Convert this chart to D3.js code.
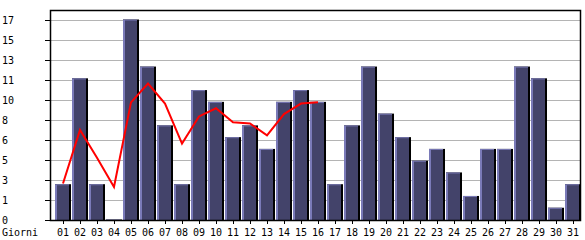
<!DOCTYPE html>
<html>
<head>
<meta charset="utf-8">
<script src="https://cdn.jsdelivr.net/npm/d3@7"></script>
<style>
  body { margin: 0; background: #fff; }
  svg { display: block; }
  text { font-family: 'DejaVu Sans Mono', monospace; font-size: 10px; fill: #000; }
</style>
</head>
<body>
<svg id="area" width="585" height="240"></svg>
<script>
const days = ['01','02','03','04','05','06','07','08','09','10','11','12','13','14','15','16',
  '17','18','19','20','21','22','23','24','25','26','27','28','29','30','31'];
const visits = [3,12,3,0,17,13,8,3,11,10,7,8,6,10,11,10,3,8,13,9,7,5,6,4,2,6,6,13,12,1,3];
const trendDays = days.slice(0, 16);
const trend = [3.1,7.65,5.3,2.8,10.0,11.6,9.9,6.5,8.8,9.5,8.3,8.2,7.2,9.0,9.9,10.0];
const yTicks = [0,1.7,3.4,5.1,6.8,8.5,10.2,11.9,13.6,15.3,17];
const yLabels = ['0','1','3','5','6','8','10','11','13','15','17'];

function drawChart() {
  const svg = d3.select('#area');

  const left = 50;
  const right = 580;
  const top = 10;
  const bottom = 220;

  const x = d3.scaleBand(days, [54.5, 581.5]);
  const y = d3.scaleLinear([0, 17.85], [bottom, top]);
  const cx = (d) => x(d) + x.bandwidth() / 2;

  // grid
  svg.append('g')
    .attr('stroke', '#b4b4b4')
    .selectAll('line')
    .data(yTicks.slice(1))
    .join('line')
    .attr('x1', left)
    .attr('x2', right)
    .attr('y1', (d) => Math.round(y(d)) + 0.5)
    .attr('y2', (d) => Math.round(y(d)) + 0.5);

  // y ticks + labels
  svg.append('g')
    .attr('stroke', '#000')
    .selectAll('line')
    .data(yTicks)
    .join('line')
    .attr('x1', left - 5)
    .attr('x2', left)
    .attr('y1', (d) => Math.round(y(d)) + 0.5)
    .attr('y2', (d) => Math.round(y(d)) + 0.5);

  svg.append('g').selectAll('text')
    .data(yTicks)
    .join('text')
    .attr('x', 2)
    .attr('y', (d) => y(d))
    .attr('dy', '0.35em')
    .text((d, i) => yLabels[i]);

  // bars
  const bars = svg.append('g').selectAll('g')
    .data(visits)
    .join('g');

  bars.append('rect')
    .attr('x', (d, i) => cx(days[i]) - 8)
    .attr('y', (d) => y(d) - 0.5)
    .attr('width', 16)
    .attr('height', (d) => bottom - y(d) + 0.5)
    .attr('fill', '#000');
  bars.append('rect')
    .attr('x', (d, i) => cx(days[i]) - 8)
    .attr('y', (d) => y(d) - 0.5)
    .attr('width', 14)
    .attr('height', (d) => bottom - y(d) + 0.5)
    .attr('fill', '#7a7ab8');
  bars.append('rect')
    .attr('x', (d, i) => cx(days[i]) - 6)
    .attr('y', (d) => y(d) + 0.5)
    .attr('width', 12)
    .attr('height', (d) => Math.max(0, bottom - y(d) - 0.5))
    .attr('fill', '#43436a');

  // frame
  svg.append('rect')
    .attr('x', left + 0.5)
    .attr('y', top + 0.5)
    .attr('width', right - left)
    .attr('height', bottom - top)
    .attr('fill', 'none')
    .attr('stroke', '#000')
    .attr('stroke-width', 1.5);

  // x ticks + labels
  svg.append('g')
    .attr('stroke', '#000')
    .selectAll('line')
    .data(days)
    .join('line')
    .attr('x1', (d) => Math.round(cx(d)) + 0.5)
    .attr('x2', (d) => Math.round(cx(d)) + 0.5)
    .attr('y1', bottom)
    .attr('y2', bottom + 4);

  svg.append('g').selectAll('text')
    .data(days)
    .join('text')
    .attr('x', (d) => cx(d))
    .attr('y', 236)
    .attr('text-anchor', 'middle')
    .text((d) => d);

  svg.append('text')
    .attr('x', 2)
    .attr('y', 236)
    .text('Giorni');

  // trend line
  svg.append('path')
    .datum(trend)
    .attr('fill', 'none')
    .attr('stroke', '#ff0000')
    .attr('stroke-width', 2)
    .attr('d', d3.line()
      .x((d, i) => cx(trendDays[i]))
      .y((d) => y(d)));
}

drawChart();
</script>
</body>
</html>
